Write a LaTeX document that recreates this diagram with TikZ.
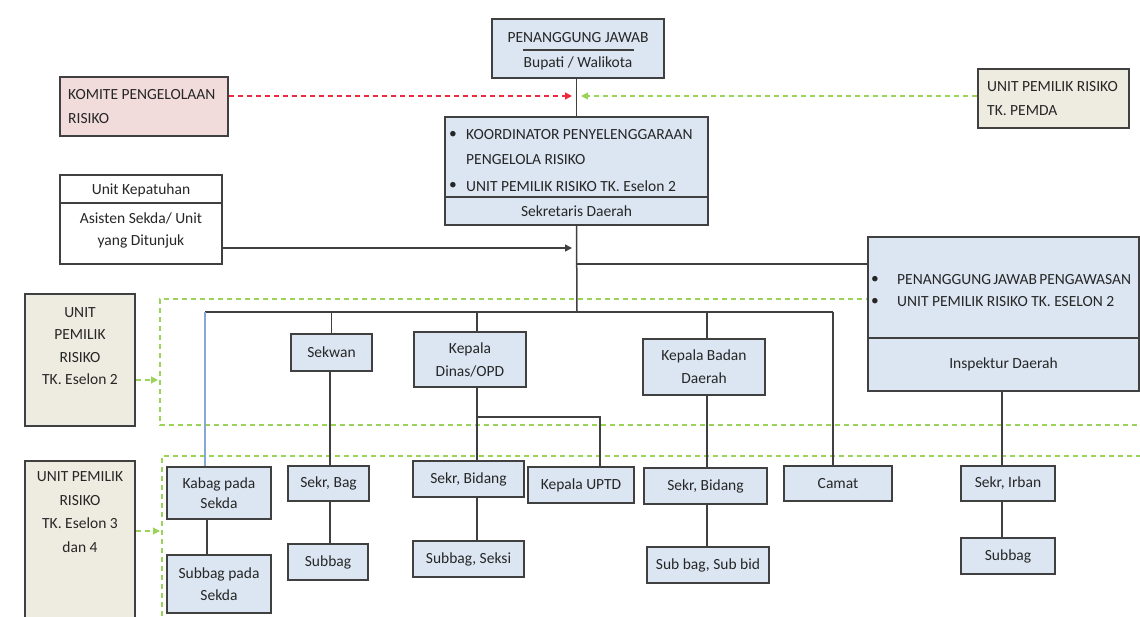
\documentclass[tikz,border=0pt]{standalone}
\usepackage{fontspec}
\setmainfont{Carlito}
\usetikzlibrary{arrows.meta}
\definecolor{bfill}{HTML}{DCE6F2}
\definecolor{pfill}{HTML}{F2DCDB}
\definecolor{ofill}{HTML}{EEECE1}
\definecolor{edge}{HTML}{404040}
\definecolor{gdash}{HTML}{9BD35A}
\definecolor{rdash}{HTML}{F02A3E}
\definecolor{txt}{HTML}{262626}
\definecolor{lblue}{HTML}{8AA6D2}
\begin{document}
\begin{tikzpicture}[x=1pt,y=-1pt,
  fnt/.style={font=\fontsize{15.5}{23}\selectfont, text=txt},
  box/.style={fnt, draw=edge, line width=1.5pt, fill=bfill, inner sep=0pt, align=center},
  pbox/.style={box, fill=pfill},
  obox/.style={box, fill=ofill},
  wbox/.style={box, fill=white},
  lbl/.style={fnt, inner sep=0pt},
  conn/.style={draw=edge, line width=1.5pt},
  bconn/.style={draw=lblue, line width=1.3pt},
  gd/.style={draw=gdash, line width=1.2pt, dash pattern=on 5pt off 4pt},
  rd/.style={draw=rdash, line width=1.4pt, dash pattern=on 5pt off 4pt},
  tip/.style={-{Triangle[length=7pt,width=7pt]}}
]
\useasboundingbox (0,0) rectangle (1140,617);
\clip (0,0) rectangle (1140,617);

% green dashed regions
\draw[gd] (1150,299) -- (160,299) -- (160,425) -- (1150,425);
\draw[gd] (1150,456) -- (162,456) -- (162,630);

% ---------- top boxes ----------
\node[box, minimum width=172pt, minimum height=59pt] (pj) at (578,48.5) {};
\node[lbl] (pjt) at (578,38) {PENANGGUNG JAWAB};
\node[lbl] (pjb) at (578,63) {Bupati / Walikota};
\draw[edge, line width=1.3pt] (523,50) -- (634,50);

\node[pbox, minimum width=168pt, minimum height=59pt] (kom) at (144,106.5) {};
\node[lbl, anchor=west] (komt1) at (68,95) {KOMITE PENGELOLAAN};
\node[lbl, anchor=west] (komt2) at (68,119) {RISIKO};

\node[obox, minimum width=151pt, minimum height=59pt] (pemda) at (1053.5,98.5) {};
\node[lbl, anchor=west] (pemt1) at (987,87) {UNIT PEMILIK RISIKO};
\node[lbl, anchor=west] (pemt2) at (987,111) {TK. PEMDA};

\node[box, minimum width=263pt, minimum height=108pt] (koord) at (576.5,171) {};
\draw[conn] (koord.west |- 0,197) -- (koord.east |- 0,197);
\node[lbl] (kb1) at (453,135) {\textbullet};
\node[lbl, anchor=west] (kt1) at (466,135) {KOORDINATOR PENYELENGGARAAN};
\node[lbl, anchor=west] (kt2) at (466,160) {PENGELOLA RISIKO};
\node[lbl] (kb2) at (453,186) {\textbullet};
\node[lbl, anchor=west] (kt3) at (466,186) {UNIT PEMILIK RISIKO TK. Eselon 2};
\node[lbl] (kt4) at (576.5,211) {Sekretaris Daerah};

\node[wbox, minimum width=162pt, minimum height=89pt] (kep) at (141,219.5) {};
\draw[conn] (kep.west |- 0,203) -- (kep.east |- 0,203);
\node[lbl] (kep1) at (141,190) {Unit Kepatuhan};
\node[lbl] (kep2) at (141,218) {Asisten Sekda/ Unit};
\node[lbl] (kep3) at (141,241) {yang Ditunjuk};

\node[box, minimum width=271pt, minimum height=154pt] (insp) at (1003.5,314) {};
\draw[conn] (insp.west |- 0,338) -- (insp.east |- 0,338);
\node[lbl] (ib1) at (875,280) {\textbullet};
\node[lbl, anchor=west] (it1) at (897,280) {\makebox[229pt][s]{PENANGGUNG JAWAB PENGAWASAN}};
\node[lbl] (ib2) at (875,302) {\textbullet};
\node[lbl, anchor=west] (it2) at (897,302) {UNIT PEMILIK RISIKO TK. ESELON 2};
\node[lbl] (it3) at (1003.5,364) {Inspektur Daerah};

% left labels
\node[obox, minimum width=110pt, minimum height=132pt] (l1) at (80,360) {};
\node[lbl, align=center, font=\fontsize{15.5}{22.5}\selectfont] (l1t) at (80,346) {UNIT\\PEMILIK\\RISIKO\\TK. Eselon 2};
\node[obox, minimum width=110pt, minimum height=180pt] (l2) at (80,551) {};
\node[lbl, align=center, font=\fontsize{15.5}{23.5}\selectfont] (l2t) at (80,512) {UNIT PEMILIK\\RISIKO\\TK. Eselon 3\\dan 4};

% ---------- lower boxes ----------
\node[box, minimum width=104pt, minimum height=52pt, font=\fontsize{15.5}{19.5}\selectfont] (kabag) at (219,493) {Kabag pada\\Sekda};
\node[box, minimum width=104pt, minimum height=58pt, font=\fontsize{15.5}{22}\selectfont] (sbsekda) at (219,584) {Subbag pada\\Sekda};
\node[box, minimum width=81pt, minimum height=37pt] (sekwan) at (331.5,352.5) {Sekwan};
\node[box, minimum width=81pt, minimum height=35pt] (sekrbag) at (328.5,483.5) {Sekr, Bag};
\node[box, minimum width=80pt, minimum height=36pt] (subbagL) at (328,562) {Subbag};
\node[box, minimum width=112pt, minimum height=55pt] (kd) at (470,359.5) {Kepala\\Dinas/OPD};
\node[box, minimum width=111pt, minimum height=36pt] (sb1) at (468.5,479) {Sekr, Bidang};
\node[box, minimum width=111pt, minimum height=36pt] (sseksi) at (468.5,559) {Subbag, Seksi};
\node[box, minimum width=106pt, minimum height=36pt] (uptd) at (581,485) {Kepala UPTD};
\node[box, minimum width=122pt, minimum height=56pt] (kbd) at (704,367) {Kepala Badan\\Daerah};
\node[box, minimum width=123pt, minimum height=36pt] (sb2) at (705.5,486) {Sekr, Bidang};
\node[box, minimum width=122pt, minimum height=36pt] (ssub) at (708,565) {Sub bag, Sub bid};
\node[box, minimum width=108pt, minimum height=35pt] (camat) at (838,483.5) {Camat};
\node[box, minimum width=94pt, minimum height=35pt] (irban) at (1008,483.5) {Sekr, Irban};
\node[box, minimum width=94pt, minimum height=36pt] (subbagR) at (1008,556) {Subbag};

% ---------- connectors ----------
\coordinate (bus) at (577,312);
\coordinate (busL) at (205,312);
\coordinate (busR) at (833,312);
\coordinate (redtip) at (572,96);
\coordinate (grntip) at (581,96);
\coordinate (keptip) at (572,248);
\coordinate (insj) at (577,264);
\coordinate (kdx) at (477,0);
\coordinate (kdj) at (477,417);
\coordinate (uptdx) at (600,417);
\coordinate (kbdx) at (707,0);
\coordinate (irx) at (1002,0);
\coordinate (g1) at (158,380);
\coordinate (g2) at (160,531);

\draw[conn] (pj.south -| koord.north) -- (koord.north);
\draw[rd, tip, rdash] (redtip -| kom.east) -- (redtip);
\draw[gd, tip, gdash] (grntip -| pemda.west) -- (grntip);
\draw[conn, tip, edge] (keptip -| kep.east) -- (keptip);
\draw[conn] (koord.south) -- (bus);
\draw[conn] (insj) -- (insj -| insp.west);
\draw[conn] (busL) -- (busR);
\draw[bconn] (busL) -- (busL |- kabag.north);
\draw[conn] (kabag.south -| 207,0) -- (sbsekda.north -| 207,0);
\draw[conn] (sekwan.north |- bus) -- (sekwan.north);
\draw[conn] (sekwan.south -| 330,0) -- (sekrbag.north -| 330,0);
\draw[conn] (sekrbag.south -| 330,0) -- (subbagL.north -| 330,0);
\draw[conn] (kdx |- bus) -- (kdx |- kd.north);
\draw[conn] (kdx |- kd.south) -- (kdj) -- (uptdx) -- (uptdx |- uptd.north);
\draw[conn] (kdj) -- (kdx |- sb1.north);
\draw[conn] (kdx |- sb1.south) -- (kdx |- sseksi.north);
\draw[conn] (kbdx |- bus) -- (kbdx |- kbd.north);
\draw[conn] (kbdx |- kbd.south) -- (kbdx |- sb2.north);
\draw[conn] (kbdx |- sb2.south) -- (kbdx |- ssub.north);
\draw[conn] (busR) -- (busR |- camat.north);
\draw[conn] (irx |- insp.south) -- (irx |- irban.north);
\draw[conn] (irx |- irban.south) -- (irx |- subbagR.north);
\draw[gd, tip, gdash] (g1 -| l1.east) -- (g1);
\draw[gd, tip, gdash] (g2 -| l2.east) -- (g2);
\end{tikzpicture}
\end{document}
